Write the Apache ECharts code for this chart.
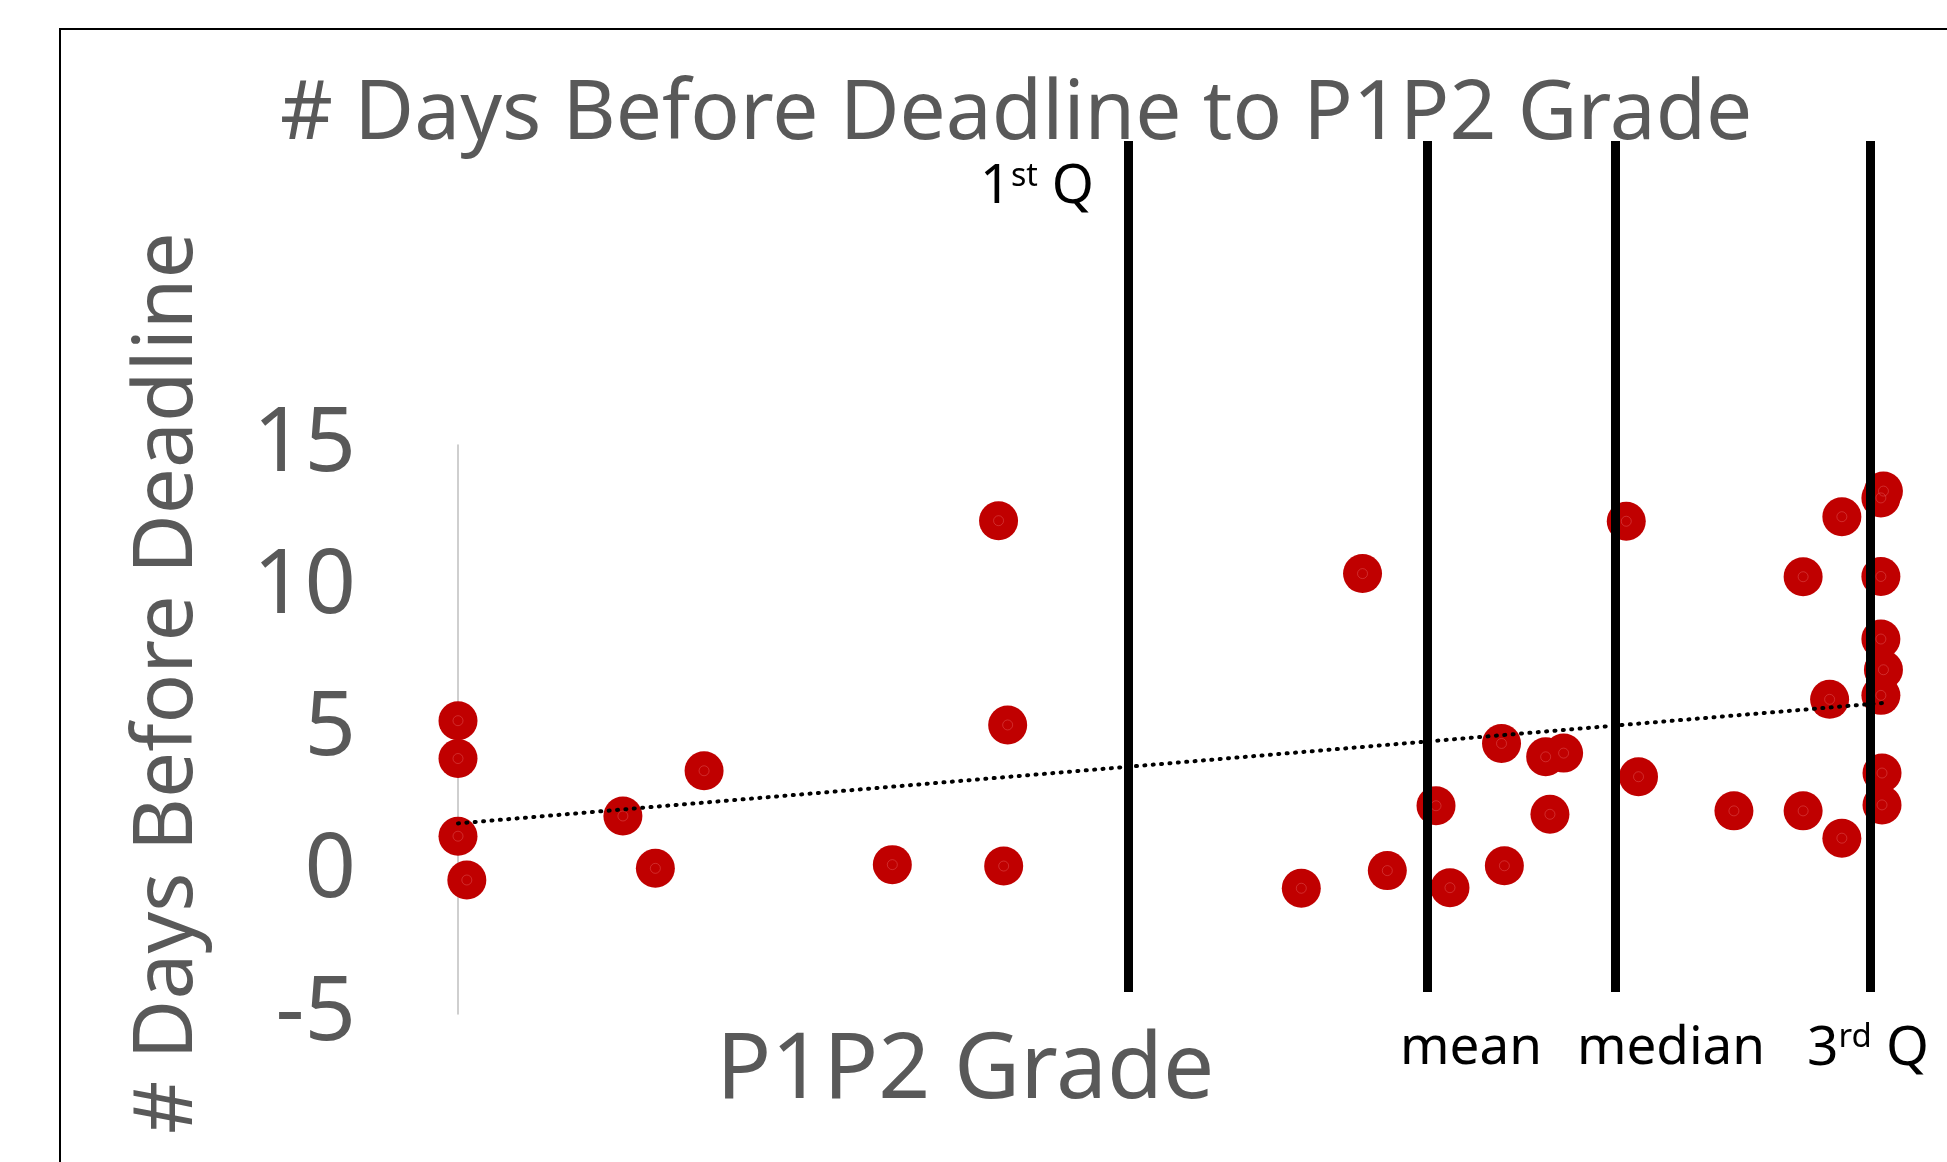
<!DOCTYPE html>
<html>
<head>
<meta charset="utf-8">
<title># Days Before Deadline to P1P2 Grade</title>
<script src="https://cdn.jsdelivr.net/npm/echarts@6/dist/echarts.min.js"></script>
<style>
  html, body { margin: 0; padding: 0; background: #fff; }
  #chart { width: 1947px; height: 1162px; }
</style>
</head>
<body>
<div id="chart"></div>
<script>
// P1P2 grade (x) and days before deadline (y)
const gradeX = [
  50.0, 50.0, 50.0, 50.31, 55.79, 56.93, 58.64, 65.25, 68.98, 69.30,
  69.16, 81.76, 79.61, 82.63, 84.34, 84.83, 86.64, 88.19, 88.82, 88.34,
  86.74, 91.02, 91.45, 94.80, 97.23, 97.23, 98.59, 98.16, 98.59, 100.05,
  99.96, 99.96, 99.96, 100.05, 99.96, 100.0, 100.0
];
const daysY = [
  5.31, 3.98, 1.25, -0.29, 1.96, 0.12, 3.55, 0.25, 12.34, 5.16,
  0.20, 10.48, -0.58, 0.04, 2.32, -0.56, 4.51, 4.04, 4.17, 2.02,
  0.21, 12.32, 3.34, 2.14, 10.37, 2.14, 12.48, 6.06, 1.18, 13.38,
  13.14, 10.38, 8.18, 7.10, 6.20, 3.47, 2.35
];

// linear trendline end points
const trendX = [50, 100];
const trendY = [1.70, 5.93];

// summary markers
const statNames = ['1st Q', 'mean', 'median', '3rd Q'];
const statX = [73.54, 84.02, 90.64, 99.58];

const yTicks = { min: -5, max: 15, interval: 5 };

const FONT = 'Noto Sans';
const GREY = '#595959';

const points = gradeX.map((x, i) => [x, daysY[i]]);
const trend = trendX.map((x, i) => [x, trendY[i]]);

const option = {
  backgroundColor: '#fff',
  animation: false,
  title: {
    text: '# Days Before Deadline to P1P2 Grade',
    left: 275,
    top: 70,
    textStyle: {
      fontFamily: FONT,
      fontSize: 82,
      lineHeight: 82,
      fontWeight: 'normal',
      color: GREY,
    },
  },
  grid: [
    // main plot
    { left: 458, top: 445, width: 1452.5, height: 569, outerBoundsMode: 'none' },
    // taller area for the quartile / mean markers
    { left: 458, top: 141, width: 1452.5, height: 851, outerBoundsMode: 'none' },
  ],
  xAxis: [
    {
      type: 'value',
      min: 50,
      max: 101,
      name: 'P1P2 Grade',
      nameLocation: 'middle',
      nameGap: 13,
      nameTextStyle: {
        fontFamily: FONT,
        fontSize: 91,
        lineHeight: 91,
        color: GREY,
        padding: [0, 438, 0, 0],
      },
      axisLine: { show: false },
      axisTick: { show: false },
      axisLabel: { show: false },
      splitLine: { show: false },
    },
    {
      type: 'value',
      gridIndex: 1,
      min: 50,
      max: 101,
      show: false,
    },
  ],
  yAxis: [
    {
      type: 'value',
      min: yTicks.min,
      max: yTicks.max,
      interval: yTicks.interval,
      name: '# Days Before Deadline',
      nameLocation: 'middle',
      nameRotate: 90,
      nameGap: 248,
      nameTextStyle: {
        fontFamily: FONT,
        fontSize: 82,
        lineHeight: 82,
        color: GREY,
        padding: [0, 0, 0, 93],
      },
      axisLine: { show: true, onZero: false, lineStyle: { color: '#bfbfbf', width: 1.5 } },
      axisTick: { show: false },
      splitLine: { show: false },
      axisLabel: {
        fontFamily: FONT,
        fontSize: 90,
        color: GREY,
        margin: 102,
      },
    },
    {
      type: 'value',
      gridIndex: 1,
      min: 0,
      max: 1,
      show: false,
    },
  ],
  series: [
    {
      name: 'Days',
      type: 'scatter',
      data: points,
      symbolSize: 39,
      clip: false,
      itemStyle: { color: '#C00000', opacity: 1 },
      z: 2,
    },
    {
      // faint inner ring on each marker
      type: 'scatter',
      data: points,
      symbol: 'circle',
      symbolSize: 10,
      clip: false,
      silent: true,
      itemStyle: { color: 'rgba(0,0,0,0)', borderColor: 'rgba(235,110,110,0.6)', borderWidth: 0.8 },
      z: 3,
    },
    {
      name: 'Trend',
      type: 'line',
      data: trend,
      symbol: 'none',
      silent: true,
      lineStyle: { color: '#000', width: 4, type: [1, 7.4], cap: 'round' },
      z: 4,
    },
    {
      type: 'scatter',
      xAxisIndex: 1,
      yAxisIndex: 1,
      data: [],
      silent: true,
      z: 5,
      markLine: {
        silent: true,
        symbol: 'none',
        label: { show: false },
        lineStyle: { color: '#000', width: 9, type: 'solid' },
        data: statX.map((x, i) => ({ name: statNames[i], xAxis: x })),
      },
    },
  ],
  graphic: [
    {
      // slide frame
      type: 'rect',
      shape: { x: 60, y: 29, width: 2000, height: 1200 },
      style: { fill: 'none', stroke: '#000', lineWidth: 2 },
      silent: true,
    },
    {
      type: 'text',
      x: 980,
      y: 188,
      style: {
        text: '{n|1}{s|st}{n| Q}',
        verticalAlign: 'middle',
        rich: {
          n: { fontFamily: FONT, fontSize: 54, fill: '#000' },
          s: { fontFamily: FONT, fontSize: 32, fill: '#000', verticalAlign: 'top' },
        },
      },
    },
    {
      type: 'text',
      x: 1471,
      y: 1049,
      style: { text: 'mean', fontFamily: FONT, fontSize: 53, fill: '#000', align: 'center', verticalAlign: 'middle' },
    },
    {
      type: 'text',
      x: 1671,
      y: 1049,
      style: { text: 'median', fontFamily: FONT, fontSize: 53, fill: '#000', align: 'center', verticalAlign: 'middle' },
    },
    {
      type: 'text',
      x: 1807,
      y: 1049,
      style: {
        text: '{n|3}{s|rd}{n| Q}',
        verticalAlign: 'middle',
        rich: {
          n: { fontFamily: FONT, fontSize: 55, fill: '#000' },
          s: { fontFamily: FONT, fontSize: 33, fill: '#000', verticalAlign: 'top' },
        },
      },
    },
  ],
};

const chart = echarts.init(document.getElementById('chart'), null, { renderer: 'canvas' });
chart.setOption(option);
</script>
</body>
</html>
